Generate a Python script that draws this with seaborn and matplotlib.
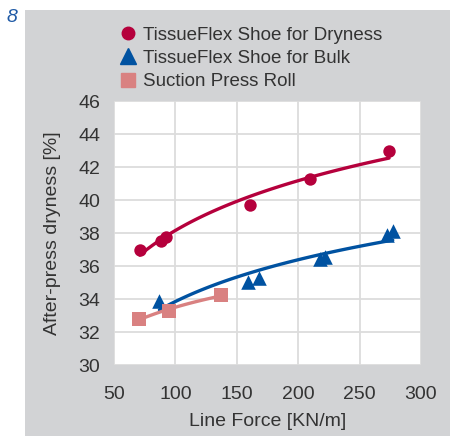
import numpy as np
import pandas as pd
import seaborn as sns
import matplotlib.pyplot as plt
from matplotlib.patches import Rectangle
from matplotlib.lines import Line2D

# values
dry_force = [71, 88, 92, 161, 210, 274]
dry_value = [37.0, 37.5, 37.75, 39.7, 41.3, 42.95]

bulk_force = [87, 159, 168, 218, 222, 272, 277]
bulk_value = [33.85, 35.05, 35.3, 36.45, 36.55, 37.85, 38.1]

spr_force = [70, 95, 137]
spr_value = [32.8, 33.25, 34.25]

series_names = ["TissueFlex Shoe for Dryness", "TissueFlex Shoe for Bulk", "Suction Press Roll"]
x_ticks = [50, 100, 150, 200, 250, 300]
y_ticks = [30, 32, 34, 36, 38, 40, 42, 44, 46]

RED = "#b5003c"
BLUE = "#0052a1"
PINK = "#d98181"
PANEL = "#d2d3d5"
TXT = "#333333"

sns.set_style("white")
plt.rcParams['font.family'] = ['Liberation Sans', 'DejaVu Sans']
plt.rcParams['text.color'] = TXT
plt.rcParams['axes.labelcolor'] = TXT
plt.rcParams['xtick.color'] = TXT
plt.rcParams['ytick.color'] = TXT

fig = plt.figure(figsize=(4.5, 4.36), dpi=100)
fig.patches.append(Rectangle((25 / 450, 0), 1, 1 - 10 / 436, transform=fig.transFigure,
                             facecolor=PANEL, edgecolor="none", zorder=-5))
ax = fig.add_axes([114 / 450, 1 - 365 / 436, 307 / 450, 264 / 436])
ax.set_facecolor("white")

styles = [
    (dry_force, dry_value, RED, "o", 80),
    (bulk_force, bulk_value, BLUE, "^", 110),
    (spr_force, spr_value, PINK, "s", 95),
]
for xs, ys, col, mk, size in styles:
    sns.regplot(x=np.array(xs, dtype=float), y=np.array(ys), logx=True, ci=None, ax=ax,
                marker=mk, color=col,
                scatter_kws=dict(s=size, linewidths=0, alpha=1, zorder=3),
                line_kws=dict(lw=2.4, zorder=2, solid_capstyle="round"))

ax.set_xlim(50, 300)
ax.set_ylim(30, 46)
ax.set_xticks(x_ticks)
ax.set_yticks(y_ticks)
ax.grid(True, color="#dcdcdc", lw=1.3)
ax.set_axisbelow(True)
for s in ax.spines.values():
    s.set_visible(False)
ax.tick_params(axis="both", length=0, labelsize=14)
ax.tick_params(axis="x", pad=15)
ax.tick_params(axis="y", pad=10)
ax.set_xlabel("Line Force [KN/m]", fontsize=14, labelpad=7)
ax.set_ylabel("After-press dryness [%]", fontsize=14, labelpad=12)

handles = [Line2D([], [], ls="none", marker=m, color=c, markersize=ms)
           for m, c, ms in [("o", RED, 9), ("^", BLUE, 11), ("s", PINK, 9.5)]]
fig.legend(handles, series_names, loc="upper left", bbox_to_anchor=(109 / 450, 1 - 17 / 436),
           frameon=False, fontsize=13.5, handlelength=1.0, handletextpad=0.3,
           labelspacing=0.33, borderpad=0)

fig.text(12 / 450, 1 - 17 / 436, "8", color="#1f5aa6", fontsize=14, style="italic",
         ha="center", va="center")

fig.savefig("out.png", dpi=100)
